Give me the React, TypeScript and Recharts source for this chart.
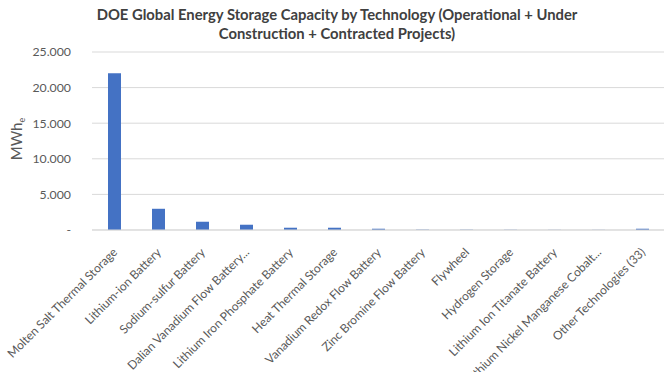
import { Bar, BarChart, CartesianGrid, XAxis, YAxis } from 'recharts'

const TECHNOLOGIES = [
  'Molten Salt Thermal Storage',
  'Lithium-ion Battery',
  'Sodium-sulfur Battery',
  'Dalian Vanadium Flow Battery...',
  'Lithium Iron Phosphate Battery',
  'Heat Thermal Storage',
  'Vanadium Redox Flow Battery',
  'Zinc Bromine Flow Battery',
  'Flywheel',
  'Hydrogen Storage',
  'Lithium Ion Titanate Battery',
  'Lithium Nickel Manganese Cobalt...',
  'Other Technologies (33)',
]

const CAPACITY_MWH = [22000, 2980, 1160, 740, 320, 320, 180, 50, 40, 30, 20, 20, 180]

const Y_TICKS = [0, 5000, 10000, 15000, 20000, 25000]

const data = TECHNOLOGIES.map((name, i) => ({ name, value: CAPACITY_MWH[i] }))

const FONT = 'Lato, "Open Sans", sans-serif'
const TEXT_GRAY = '#595959'

const formatTick = (v: number) =>
  v === 0 ? '-' : v.toString().replace(/\B(?=(\d{3})+(?!\d))/g, '.')

function CategoryTick({ x, y, payload }: any) {
  const px = x + 4
  const py = y + 15
  return (
    <text
      x={px}
      y={py}
      transform={`rotate(-45, ${px}, ${py})`}
      textAnchor="end"
      fontSize={12}
      fontFamily={FONT}
      fill={TEXT_GRAY}
    >
      {payload.value}
    </text>
  )
}

function UnitLabel({ viewBox }: any) {
  const cx = 22
  const cy = viewBox ? viewBox.y + viewBox.height / 2 - 2 : 140
  return (
    <text
      x={cx}
      y={cy}
      transform={`rotate(-90, ${cx}, ${cy})`}
      textAnchor="middle"
      fontSize={15}
      fontFamily={FONT}
      fill={TEXT_GRAY}
    >
      MWh
      <tspan fontSize={9} dy={3}>
        e
      </tspan>
    </text>
  )
}

export default function App() {
  return (
    <div style={{ position: 'absolute', left: 0, top: 0, width: 669, height: 372, background: '#fff' }}>
      <svg width={669} height={50} style={{ position: 'absolute', left: 0, top: 0 }}>
        <text
          x={337}
          y={20}
          textAnchor="middle"
          fontSize={14.8}
          fontWeight="bold"
          fontFamily={FONT}
          fill="#404040"
        >
          DOE Global Energy Storage Capacity by Technology (Operational + Under
        </text>
        <text
          x={337}
          y={38.5}
          textAnchor="middle"
          fontSize={14.8}
          fontWeight="bold"
          fontFamily={FONT}
          fill="#404040"
        >
          Construction + Contracted Projects)
        </text>
      </svg>
      <BarChart
        width={669}
        height={372}
        data={data}
        margin={{ top: 52, right: 5, bottom: 0, left: 10 }}
        barSize={13}
      >
        <CartesianGrid vertical={false} stroke="#d9d9d9" />
        <XAxis
          dataKey="name"
          interval={0}
          tickLine={false}
          axisLine={{ stroke: '#d9d9d9' }}
          height={142}
          tick={<CategoryTick />}
        />
        <YAxis
          width={82}
          domain={[0, 25000]}
          ticks={Y_TICKS}
          tickFormatter={formatTick}
          axisLine={false}
          tickLine={false}
          tickMargin={15}
          tick={{ fontSize: 12.3, fontFamily: FONT, fill: TEXT_GRAY }}
          label={<UnitLabel />}
        />
        <Bar dataKey="value" fill="#4472C4" isAnimationActive={false} />
      </BarChart>
    </div>
  )
}
